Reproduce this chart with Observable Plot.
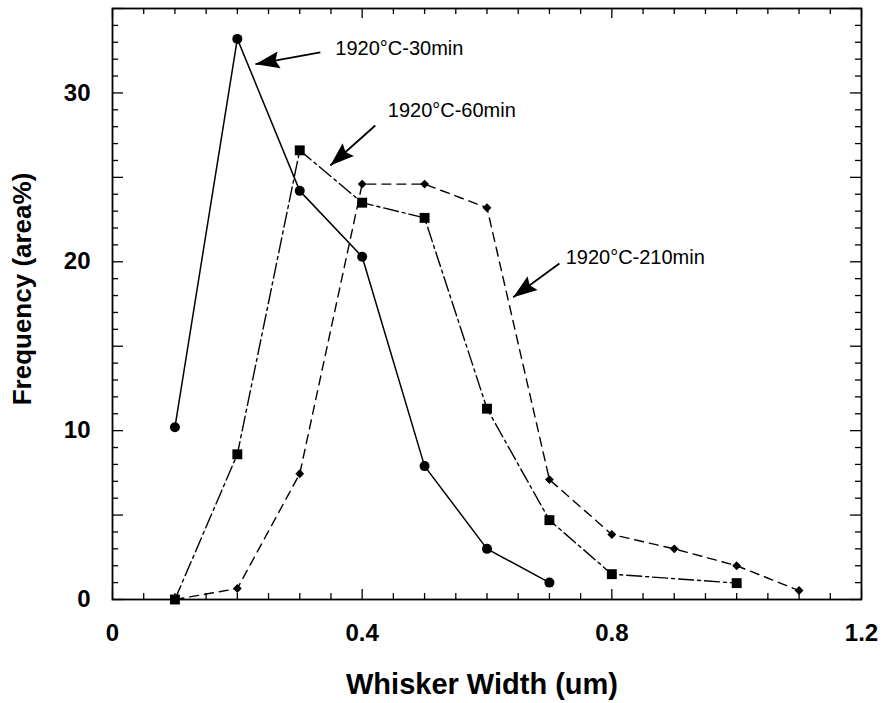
<!DOCTYPE html>
<html>
<head>
<meta charset="utf-8">
<script src="https://cdn.jsdelivr.net/npm/d3@7"></script>
<script src="https://cdn.jsdelivr.net/npm/@observablehq/plot@0.6"></script>
<style>
  html, body { margin: 0; padding: 0; background: #fff; }
  #chart { width: 885px; height: 703px; }
</style>
</head>
<body>
<div id="chart"></div>
<script>
// ---- data ----
const width30 = [0.1, 0.2, 0.3, 0.4, 0.5, 0.6, 0.7];
const freq30  = [10.2, 33.2, 24.2, 20.3, 7.9, 3.0, 1.0];

const width60 = [0.1, 0.2, 0.3, 0.4, 0.5, 0.6, 0.7, 0.8, 1.0];
const freq60  = [0.0, 8.6, 26.6, 23.5, 22.6, 11.3, 4.7, 1.5, 0.97];

const width210 = [0.1, 0.2, 0.3, 0.4, 0.5, 0.6, 0.7, 0.8, 0.9, 1.0, 1.1];
const freq210  = [0.0, 0.65, 7.45, 24.6, 24.6, 23.2, 7.1, 3.85, 3.0, 2.0, 0.53];

const xTickValues = [0, 0.4, 0.8, 1.2];
const xTickLabels = ["0", "0.4", "0.8", "1.2"];
const yTickValues = [0, 10, 20, 30];
const yTickLabels = ["0", "10", "20", "30"];

const seriesLabels = ["1920°C-30min", "1920°C-60min", "1920°C-210min"];
const labelX = [0.357, 0.441, 0.726];
const labelY = [32.6, 28.96, 20.25];
const arrowTailX = [0.333, 0.421, 0.716];
const arrowTailY = [32.4, 28.07, 19.9];
const arrowHeadX = [0.229, 0.349, 0.642];
const arrowHeadY = [31.7, 25.7, 17.9];

const xTitle = "Whisker Width (um)";
const yTitle = "Frequency (area%)";

// ---- layout ----
const W = 885, H = 703, mT = 8, mB = 104, mL = 112, mR = 24;
const innerH = H - mT - mB, innerW = W - mL - mR;
const FONT = "Liberation Sans, Arial, Helvetica, sans-serif";

const rows = (xs, ys) => xs.map((x, i) => ({x, y: ys[i]}));
const rows30 = rows(width30, freq30);
const rows60 = rows(width60, freq60);
const rows210 = rows(width210, freq210);

const xMinor = d3.range(0, 25).map(i => +(i * 0.05).toFixed(2));
const xMajor = xMinor.filter(v => Math.abs(v / 0.4 - Math.round(v / 0.4)) < 1e-6);
const xSmall = xMinor.filter(v => !xMajor.includes(v));
const yAll = d3.range(0, 36);
const yMajor = yAll.filter(v => v % 5 === 0);
const ySmall = yAll.filter(v => v % 5 !== 0);

function ticksX(vals, len) {
  return [
    Plot.ruleX(vals, {x: d => d, insetTop: innerH - len, stroke: "black", strokeWidth: 1.3}),
    Plot.ruleX(vals, {x: d => d, insetBottom: innerH - len, stroke: "black", strokeWidth: 1.3})
  ];
}
function ticksY(vals, len) {
  return [
    Plot.ruleY(vals, {y: d => d, insetRight: innerW - len, stroke: "black", strokeWidth: 1.3}),
    Plot.ruleY(vals, {y: d => d, insetLeft: innerW - len, stroke: "black", strokeWidth: 1.3})
  ];
}

const baseOptions = {
  width: W, height: H,
  marginTop: mT, marginBottom: mB, marginLeft: mL, marginRight: mR,
  style: {fontFamily: FONT, background: "white", color: "black"},
  x: {domain: [0, 1.2]},
  y: {domain: [0, 35]}
};

const baseMarks = [
  ...ticksX(xSmall, 6), ...ticksX(xMajor, 10),
  ...ticksY(ySmall, 6), ...ticksY(yMajor, 11),
  Plot.frame({stroke: "black", strokeWidth: 1.8}),
  Plot.axisX(xTickValues, {
    anchor: "bottom", tickSize: 0, tickPadding: 24, label: null,
    tickFormat: d => xTickLabels[xTickValues.indexOf(d)],
    fontSize: 24, fontWeight: "bold", fontFamily: FONT, fill: "black"
  }),
  Plot.axisY(yTickValues, {
    anchor: "left", tickSize: 0, tickPadding: 22, label: null,
    tickFormat: d => yTickLabels[yTickValues.indexOf(d)],
    fontSize: 24, fontWeight: "bold", fontFamily: FONT, fill: "black"
  }),
  Plot.line(rows30, {x: "x", y: "y", stroke: "black", strokeWidth: 1.5}),
  Plot.line(rows60, {x: "x", y: "y", stroke: "black", strokeWidth: 1.4, strokeDasharray: "15,4,3,4"}),
  Plot.line(rows210, {x: "x", y: "y", stroke: "black", strokeWidth: 1.4, strokeDasharray: "9,6"}),
  Plot.dot(rows30, {x: "x", y: "y", r: 5, fill: "black", symbol: "circle"}),
  Plot.dot(rows60, {x: "x", y: "y", r: 5.6, fill: "black", symbol: "square"}),
  Plot.dot(rows210, {x: "x", y: "y", r: 4, fill: "black", symbol: "diamond2"}),
  Plot.text([xTitle], {frameAnchor: "bottom", lineAnchor: "middle", textAnchor: "middle", dy: 85, dx: -5, fontSize: 29, fontWeight: "bold", fontFamily: FONT, fill: "black"}),
  Plot.text([yTitle], {frameAnchor: "left", lineAnchor: "middle", textAnchor: "middle", rotate: -90, dx: -90, dy: -15, fontSize: 26, fontWeight: "bold", fontFamily: FONT, fill: "black"}),
  Plot.text(seriesLabels, {x: (d, i) => labelX[i], y: (d, i) => labelY[i], text: d => d, textAnchor: "start", fontSize: 20, fontFamily: FONT, fill: "black"})
];

// first pass to obtain the scales for arrowhead directions
const probe = Plot.plot({...baseOptions, marks: baseMarks});
const sx = probe.scale("x"), sy = probe.scale("y");

const arrows = seriesLabels.map((s, i) => ({x1: arrowTailX[i], y1: arrowTailY[i], x2: arrowHeadX[i], y2: arrowHeadY[i]}));

function headSymbol(a) {
  const dx = sx.apply(a.x2) - sx.apply(a.x1);
  const dy = sy.apply(a.y2) - sy.apply(a.y1);
  const n = Math.hypot(dx, dy), ux = dx / n, uy = dy / n;
  const L = 24, w = 8.5;
  const bx = -ux * L, by = -uy * L;
  return {
    draw(ctx) {
      ctx.moveTo(0, 0);
      ctx.lineTo(bx - uy * w, by + ux * w);
      ctx.lineTo(bx * 0.85, by * 0.85);
      ctx.lineTo(bx + uy * w, by - ux * w);
      ctx.closePath();
    }
  };
}

const arrowMarks = [
  Plot.link(arrows, {x1: "x1", y1: "y1", x2: "x2", y2: "y2", stroke: "black", strokeWidth: 1.8}),
  ...arrows.map(a => Plot.dot([a], {x: "x2", y: "y2", symbol: headSymbol(a), r: 5, fill: "black", stroke: "none"}))
];

const chart = Plot.plot({...baseOptions, marks: [...baseMarks, ...arrowMarks]});
document.getElementById("chart").appendChild(chart);
</script>
</body>
</html>
